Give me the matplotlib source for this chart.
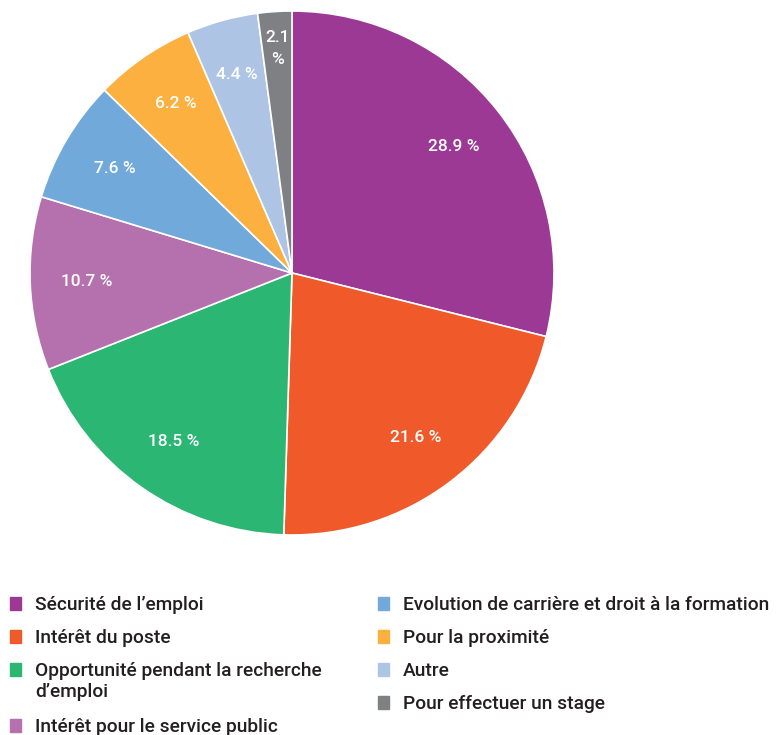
import matplotlib
matplotlib.use("Agg")
import matplotlib.pyplot as plt
from matplotlib.patches import Rectangle
import numpy as np

categories = [
    "Sécurité de l’emploi",
    "Intérêt du poste",
    "Opportunité pendant la recherche\nd’emploi",
    "Intérêt pour le service public",
    "Evolution de carrière et droit à la formation",
    "Pour la proximité",
    "Autre",
    "Pour effectuer un stage",
]
values = [28.9, 21.6, 18.5, 10.7, 7.6, 6.2, 4.4, 2.1]
colors = ["#9C3995", "#F05A2A", "#2BB673", "#B571AE", "#72A9DB", "#FBB040", "#AEC4E5", "#7F8084"]
pct_labels = ["28.9 %", "21.6 %", "18.5 %", "10.7 %", "7.6 %", "6.2 %", "4.4 %", "2.1\n%"]

plt.rcParams['font.family'] = ['Roboto', 'DejaVu Sans']

W, H = 782, 735
fig = plt.figure(figsize=(W / 100, H / 100), dpi=100)

cx, cy, r = 292, 273, 262
ax = fig.add_axes([(cx - r) / W, (H - cy - r) / H, 2 * r / W, 2 * r / H])
wedges, _ = ax.pie(values, colors=colors, startangle=90, counterclock=False,
                   radius=1, wedgeprops=dict(edgecolor="white", linewidth=1.2))
for w, lab in zip(wedges, pct_labels):
    ang = np.deg2rad((w.theta1 + w.theta2) / 2)
    d = 0.785 if "\n" not in lab else 0.86
    ax.text(d * np.cos(ang), d * np.sin(ang), lab, ha="center", va="center",
            color="white", fontsize=12.5, fontweight="medium", linespacing=1.6)
ax.set_xlim(-1, 1)
ax.set_ylim(-1, 1)
ax.set_aspect("auto")
ax.axis("off")

# legend
col_x = [10, 378]
rows_y = [[603, 636, 669, 725], [603, 636, 669, 702]]
for i, (cat, col) in enumerate(zip(categories, colors)):
    c = 0 if i < 4 else 1
    y = rows_y[c][i % 4]
    mx = col_x[c]
    fig.patches.append(Rectangle((mx / W, (H - y - 6.5) / H), 11 / W, 13 / H,
                                 transform=fig.transFigure, color=col))
    for k, line in enumerate(cat.split("\n")):
        fig.text((mx + 25) / W, (H - y - 21 * k) / H, line, ha="left", va="center_baseline",
                 fontsize=13.8, fontweight="medium", color="#231F20")

fig.savefig("out.png", dpi=100)
